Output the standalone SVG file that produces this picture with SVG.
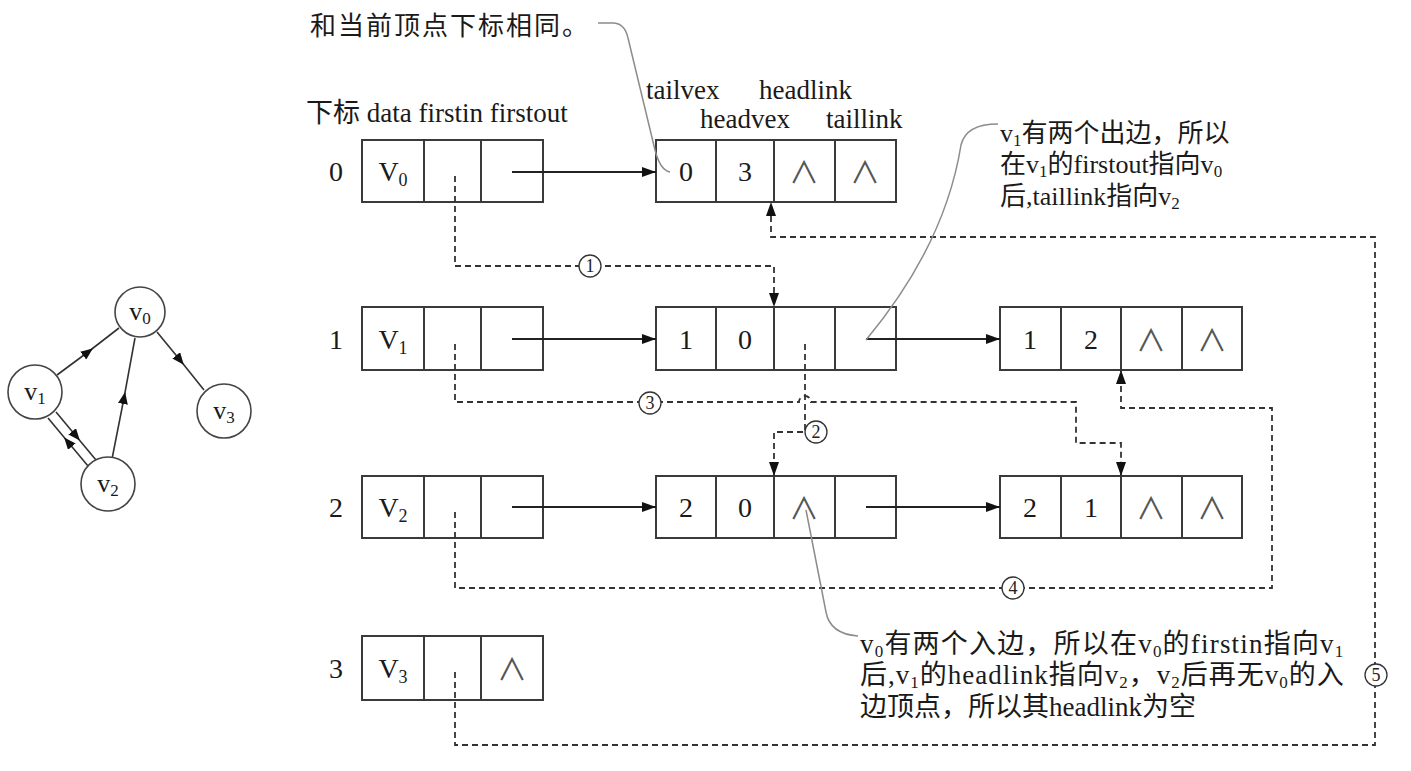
<svg xmlns="http://www.w3.org/2000/svg" width="1411" height="771" viewBox="0 0 1411 771">
<style>
.t{font-family:"Liberation Serif","Noto Sans CJK SC",serif;fill:#1a1a1a}
.cjk{font-family:"Liberation Serif","Noto Sans CJK SC",serif;fill:#1a1a1a}
.box{fill:#fff;stroke:#3a3a3a;stroke-width:2}
.div{stroke:#3a3a3a;stroke-width:2}
.nul{font-family:"Noto Sans CJK SC","DejaVu Sans",sans-serif;font-size:30px;fill:#555;text-anchor:middle}
.num{font-size:28px;text-anchor:middle}
.solid{fill:none;stroke:#222;stroke-width:1.8}
.dash{fill:none;stroke:#333;stroke-width:1.8;stroke-dasharray:6 4}
.leader{fill:none;stroke:#8c8c8c;stroke-width:1.5}
.circ{fill:#fff;stroke:#333;stroke-width:1.3}
.cn{font-family:"Liberation Serif",serif;font-size:18px;text-anchor:middle;fill:#222}
.gnode{fill:#fff;stroke:#444;stroke-width:1.6}
.gedge{fill:none;stroke:#333;stroke-width:1.6}
</style>
<defs>
<marker id="arr" viewBox="0 0 14 10" refX="14" refY="5" markerWidth="14" markerHeight="10" markerUnits="userSpaceOnUse" orient="auto">
<path d="M0,0 L14,5 L0,10 Z" fill="#111"/>
</marker>
<marker id="garr" viewBox="0 0 12 10" refX="6" refY="5" markerWidth="12" markerHeight="10" markerUnits="userSpaceOnUse" orient="auto">
<path d="M0,0 L12,5 L0,10 Z" fill="#111"/>
</marker>
</defs>

<!-- header texts -->
<g id="headers">
<text class="cjk" x="310" y="35" font-size="26" textLength="278" lengthAdjust="spacing">和当前顶点下标相同。</text>
<text class="t" x="306" y="122" font-size="27">下标 data firstin firstout</text>
<text class="t" x="646" y="99" font-size="27">tailvex</text>
<text class="t" x="759" y="99" font-size="27">headlink</text>
<text class="t" x="700" y="128" font-size="27">headvex</text>
<text class="t" x="826" y="128" font-size="27">taillink</text>
</g>

<!-- graph -->
<g id="graph">
<polyline class="gedge" points="57,375 88,352 119,328" marker-mid="url(#garr)"/>
<polyline class="gedge" points="157,332 180,360 204,390" marker-mid="url(#garr)"/>
<polyline class="gedge" points="112,459 124,398 135,338" marker-mid="url(#garr)"/>
<polyline class="gedge" points="56,412 76,436 96,460" marker-mid="url(#garr)"/>
<polyline class="gedge" points="88,466 68,442 48,418" marker-mid="url(#garr)"/>
<g id="gv0"><circle class="gnode" cx="140" cy="312" r="25"/><text class="t" x="140" y="320" font-size="26" text-anchor="middle">v<tspan font-size="17" dy="4">0</tspan></text></g>
<g id="gv1"><circle class="gnode" cx="35" cy="392" r="27"/><text class="t" x="35" y="400" font-size="26" text-anchor="middle">v<tspan font-size="17" dy="4">1</tspan></text></g>
<g id="gv2"><circle class="gnode" cx="108" cy="484" r="27"/><text class="t" x="108" y="492" font-size="26" text-anchor="middle">v<tspan font-size="17" dy="4">2</tspan></text></g>
<g id="gv3"><circle class="gnode" cx="224" cy="411" r="27"/><text class="t" x="224" y="419" font-size="26" text-anchor="middle">v<tspan font-size="17" dy="4">3</tspan></text></g>
</g>

<!-- index labels -->
<g id="indices">
<text class="t num" x="336" y="181">0</text>
<text class="t num" x="336" y="349">1</text>
<text class="t num" x="336" y="517">2</text>
<text class="t num" x="336" y="678">3</text>
</g>

<!-- vertex table -->
<g id="vertex0">
<rect class="box" x="362" y="140" width="181" height="62"/>
<line class="div" x1="424" y1="140" x2="424" y2="202"/><line class="div" x1="481" y1="140" x2="481" y2="202"/>
<text class="t num" x="393" y="181">V<tspan font-size="18" dy="5">0</tspan></text>
</g>
<g id="vertex1">
<rect class="box" x="362" y="307" width="181" height="63"/>
<line class="div" x1="424" y1="307" x2="424" y2="370"/><line class="div" x1="481" y1="307" x2="481" y2="370"/>
<text class="t num" x="393" y="349">V<tspan font-size="18" dy="5">1</tspan></text>
</g>
<g id="vertex2">
<rect class="box" x="362" y="476" width="181" height="62"/>
<line class="div" x1="424" y1="476" x2="424" y2="538"/><line class="div" x1="481" y1="476" x2="481" y2="538"/>
<text class="t num" x="393" y="517">V<tspan font-size="18" dy="5">2</tspan></text>
</g>
<g id="vertex3">
<rect class="box" x="362" y="636" width="181" height="64"/>
<line class="div" x1="424" y1="636" x2="424" y2="700"/><line class="div" x1="481" y1="636" x2="481" y2="700"/>
<text class="t num" x="393" y="678">V<tspan font-size="18" dy="5">3</tspan></text>
<text class="nul" x="512" y="680">∧</text>
</g>

<!-- edge nodes -->
<g id="edge03">
<rect class="box" x="656" y="140" width="240" height="62"/>
<line class="div" x1="716" y1="140" x2="716" y2="202"/><line class="div" x1="774" y1="140" x2="774" y2="202"/><line class="div" x1="835" y1="140" x2="835" y2="202"/>
<text class="t num" x="686" y="181">0</text><text class="t num" x="745" y="181">3</text>
<text class="nul" x="804" y="183">∧</text><text class="nul" x="865" y="183">∧</text>
</g>
<g id="edge10">
<rect class="box" x="656" y="307" width="240" height="63"/>
<line class="div" x1="716" y1="307" x2="716" y2="370"/><line class="div" x1="774" y1="307" x2="774" y2="370"/><line class="div" x1="835" y1="307" x2="835" y2="370"/>
<text class="t num" x="686" y="349">1</text><text class="t num" x="745" y="349">0</text>
</g>
<g id="edge12">
<rect class="box" x="1000" y="307" width="242" height="63"/>
<line class="div" x1="1061" y1="307" x2="1061" y2="370"/><line class="div" x1="1121" y1="307" x2="1121" y2="370"/><line class="div" x1="1182" y1="307" x2="1182" y2="370"/>
<text class="t num" x="1030" y="349">1</text><text class="t num" x="1091" y="349">2</text>
<text class="nul" x="1151" y="351">∧</text><text class="nul" x="1212" y="351">∧</text>
</g>
<g id="edge20">
<rect class="box" x="656" y="476" width="240" height="62"/>
<line class="div" x1="716" y1="476" x2="716" y2="538"/><line class="div" x1="774" y1="476" x2="774" y2="538"/><line class="div" x1="835" y1="476" x2="835" y2="538"/>
<text class="t num" x="686" y="517">2</text><text class="t num" x="745" y="517">0</text>
<text class="nul" x="804" y="519">∧</text>
</g>
<g id="edge21">
<rect class="box" x="1000" y="476" width="242" height="62"/>
<line class="div" x1="1061" y1="476" x2="1061" y2="538"/><line class="div" x1="1121" y1="476" x2="1121" y2="538"/><line class="div" x1="1182" y1="476" x2="1182" y2="538"/>
<text class="t num" x="1030" y="517">2</text><text class="t num" x="1091" y="517">1</text>
<text class="nul" x="1151" y="519">∧</text><text class="nul" x="1212" y="519">∧</text>
</g>

<!-- connectors -->
<g id="connectors">
<line class="solid" x1="512" y1="172" x2="656" y2="172" marker-end="url(#arr)"/>
<line class="solid" x1="512" y1="339" x2="656" y2="339" marker-end="url(#arr)"/>
<line class="solid" x1="866" y1="339" x2="1000" y2="339" marker-end="url(#arr)"/>
<line class="solid" x1="512" y1="507" x2="656" y2="507" marker-end="url(#arr)"/>
<line class="solid" x1="866" y1="507" x2="1000" y2="507" marker-end="url(#arr)"/>

<path class="dash" d="M455,176 V266 H774 V307" marker-end="url(#arr)"/>
<path class="dash" d="M805,344 V432 H774 V476" marker-end="url(#arr)"/>
<path class="dash" d="M455,344 V402 H799 A6,6 0 0 1 811,402 H1076 V443 H1121 V476" marker-end="url(#arr)"/>
<path class="dash" d="M455,512 V588 H1272 V408 H1121 V370" marker-end="url(#arr)"/>
<path class="dash" d="M455,672 V745 H1375 V237 H771 V202" marker-end="url(#arr)"/>

<g id="c1"><circle class="circ" cx="590" cy="266" r="11"/><text class="cn" x="590" y="272">1</text></g>
<g id="c2"><circle class="circ" cx="816" cy="432" r="11"/><text class="cn" x="816" y="438">2</text></g>
<g id="c3"><circle class="circ" cx="650" cy="403" r="11"/><text class="cn" x="650" y="409">3</text></g>
<g id="c4"><circle class="circ" cx="1013" cy="588" r="11"/><text class="cn" x="1013" y="594">4</text></g>
<g id="c5"><circle class="circ" cx="1376" cy="675" r="11"/><text class="cn" x="1376" y="681">5</text></g>

<path class="leader" d="M598,23 L614,23 Q625,24 628,38 L655,150 Q660,170 670,172"/>
<path class="leader" d="M866,340 Q945,245 961,145 Q966,124 998,124"/>
<path class="leader" d="M806,510 L826,612 Q830,634 858,636"/>
</g>

<!-- annotations -->
<g id="note-right">
<text class="cjk" x="1000" y="142" font-size="26">v<tspan font-size="17" dy="4">1</tspan><tspan dy="-4">有两个出边，所以</tspan></text>
<text class="cjk" x="1000" y="173" font-size="26">在v<tspan font-size="17" dy="4">1</tspan><tspan dy="-4">的firstout指向v</tspan><tspan font-size="17" dy="4">0</tspan></text>
<text class="cjk" x="1000" y="205" font-size="26">后,taillink指向v<tspan font-size="17" dy="4">2</tspan></text>
</g>
<g id="note-bottom">
<text class="cjk" x="860" y="653" font-size="27" letter-spacing="1.2">v<tspan font-size="17" dy="4">0</tspan><tspan dy="-4">有两个入边，所以在v</tspan><tspan font-size="17" dy="4">0</tspan><tspan dy="-4">的firstin指向v</tspan><tspan font-size="17" dy="4">1</tspan></text>
<text class="cjk" x="860" y="684" font-size="27" letter-spacing="1">后,v<tspan font-size="17" dy="4">1</tspan><tspan dy="-4">的headlink指向v</tspan><tspan font-size="17" dy="4">2</tspan><tspan dy="-4">，v</tspan><tspan font-size="17" dy="4">2</tspan><tspan dy="-4">后再无v</tspan><tspan font-size="17" dy="4">0</tspan><tspan dy="-4">的入</tspan></text>
<text class="cjk" x="860" y="716" font-size="27">边顶点，所以其headlink为空</text>
</g>
</svg>
